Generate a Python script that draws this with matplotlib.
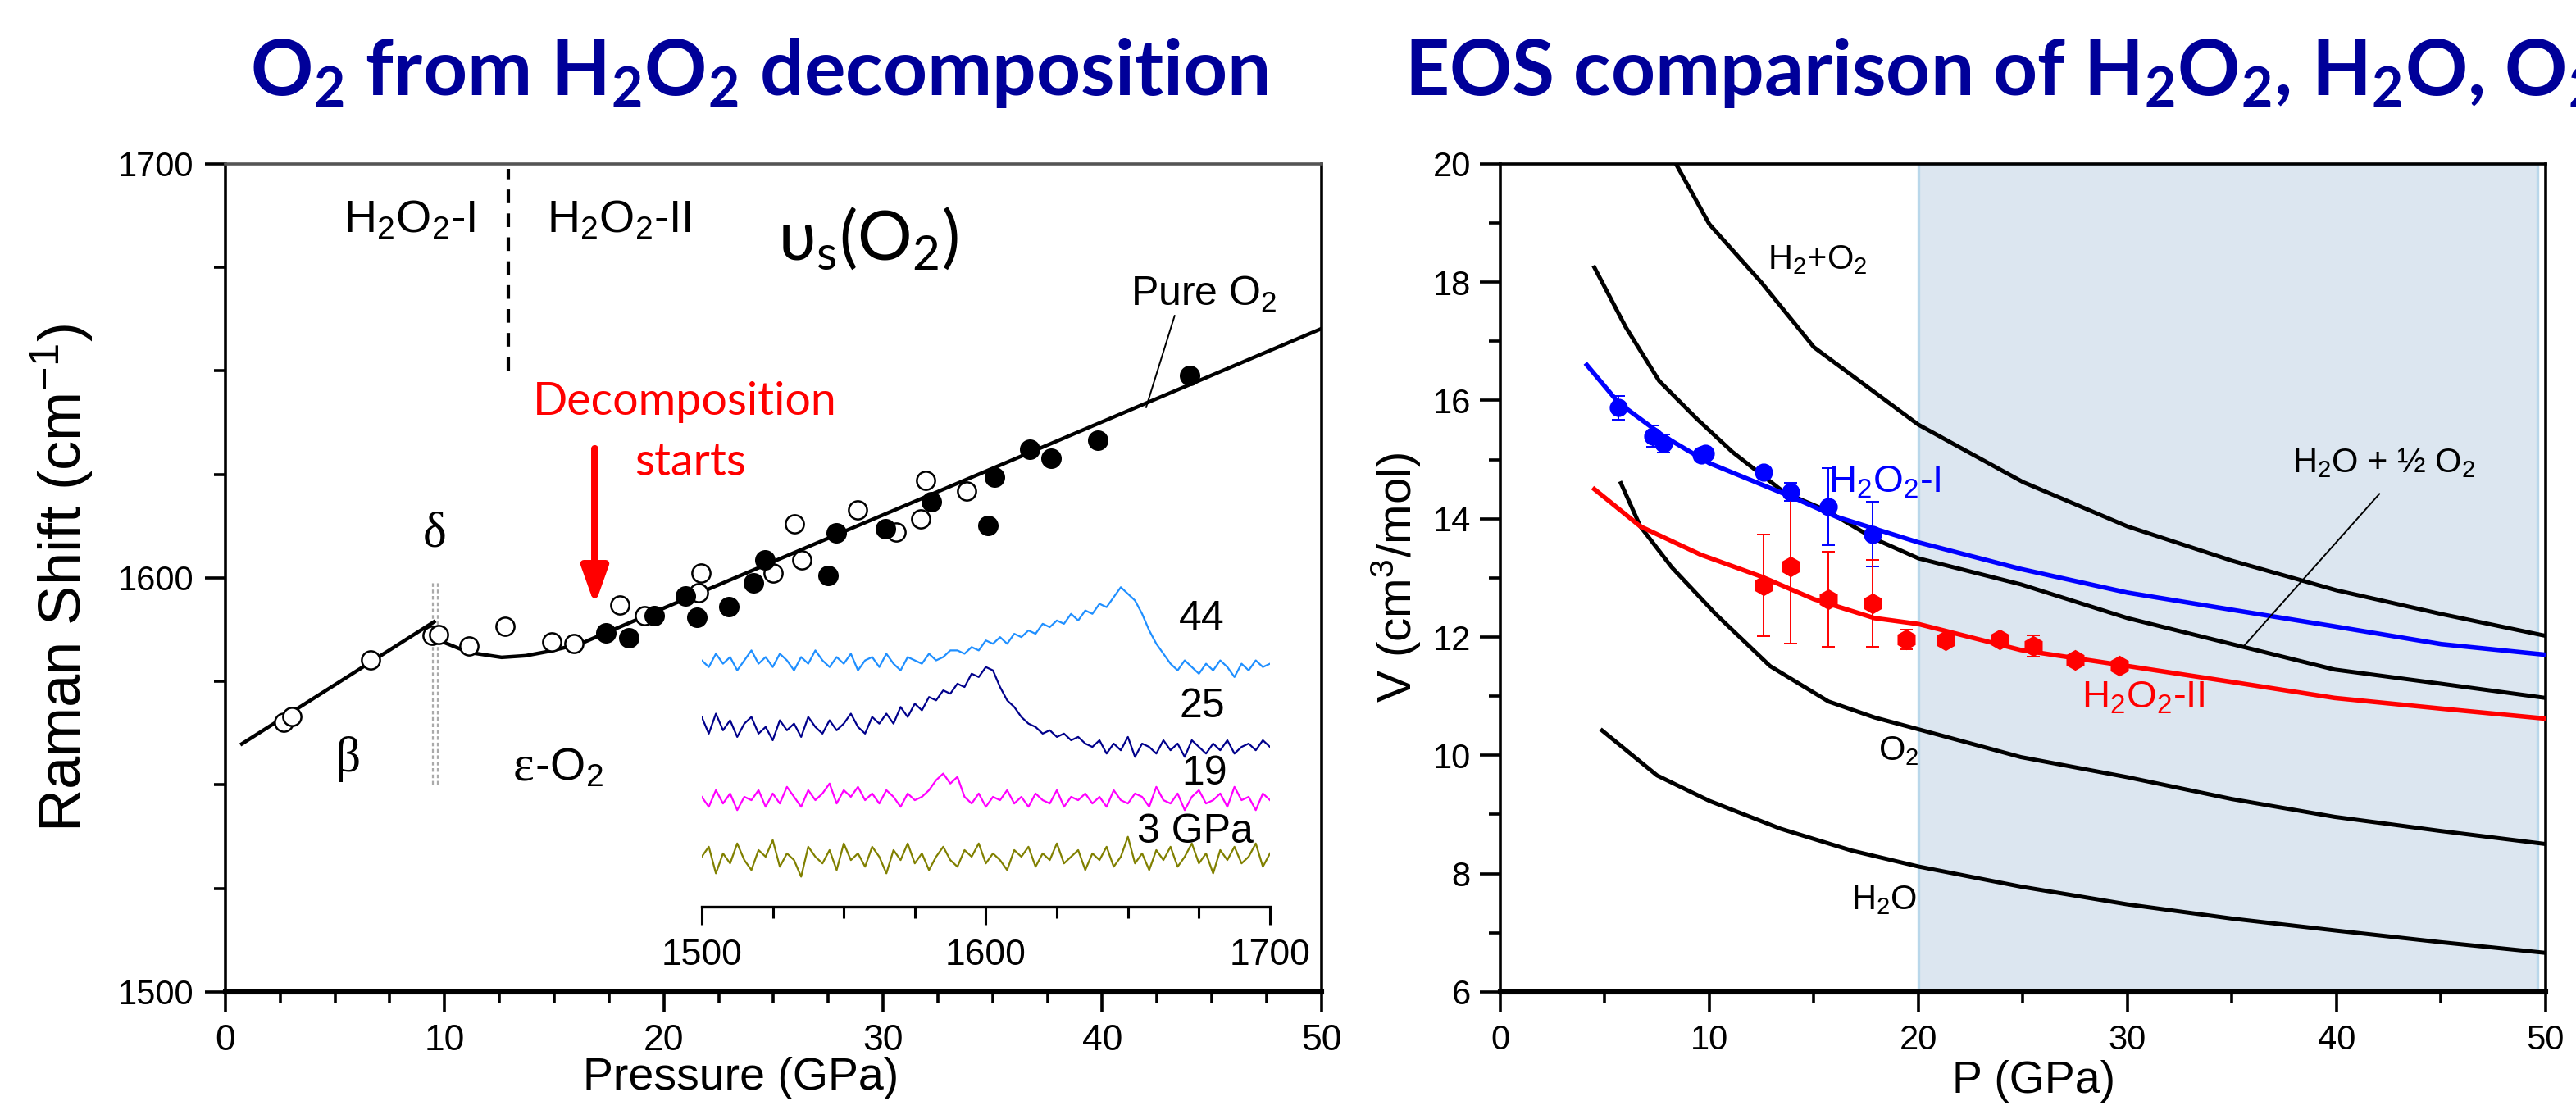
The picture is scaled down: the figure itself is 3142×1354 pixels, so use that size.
import numpy as np
import matplotlib
matplotlib.use("Agg")
import matplotlib.pyplot as plt
from matplotlib import font_manager
from matplotlib.ticker import MultipleLocator

# ---------------- left panel: Raman shift of O2 ----------------
open_p = [2.66, 3.04, 6.62, 9.42, 9.74, 11.1, 12.75, 14.9, 15.9, 18.0, 19.1, 21.7, 21.6,
          25.0, 25.97, 26.3, 28.85, 30.6, 31.73, 31.93, 33.8]
open_w = [1565.2, 1566.6, 1580.1, 1586.2, 1586.4, 1583.5, 1588.3, 1584.5, 1584.1, 1593.4,
          1590.9, 1601.1, 1596.5, 1601.1, 1613.0, 1604.4, 1616.4, 1611.1, 1614.2, 1623.5, 1621.0]
filled_p = [17.35, 18.4, 19.56, 21.0, 21.5, 22.96, 24.07, 24.6, 27.5, 27.87, 30.1, 32.2,
            34.8, 35.08, 36.7, 37.66, 39.8, 43.97]
filled_w = [1586.7, 1585.6, 1590.9, 1595.6, 1590.4, 1593.1, 1598.7, 1604.4, 1600.6, 1610.9,
            1611.9, 1618.3, 1612.7, 1624.3, 1631.0, 1628.9, 1633.2, 1648.9]

beta_fit_p = [0.75, 9.52]
beta_fit_w = [1559.9, 1589.4]
eps_fit_p = [9.7, 11.1, 12.6, 13.7, 14.8, 16.2, 20.0, 30.0, 40.0, 50.0]
eps_fit_w = [1585.0, 1582.0, 1580.8, 1581.2, 1582.3, 1584.1, 1592.7, 1615.2, 1637.7, 1660.2]

# inset spectra (intensity in arbitrary units, offset)
spec_44 = [74, 72, 76, 73, 75, 71, 74, 77, 73, 75, 72, 76, 74, 71, 75, 73, 77, 74, 72, 75,
           73, 76, 71, 74, 75, 72, 76, 73, 71, 75, 74, 73, 76, 74, 75, 77,
           77, 76, 78, 77, 80, 79, 81, 79, 82, 81, 83, 82, 85, 84, 86, 85, 88, 86, 89, 88,
           91, 90, 93, 96, 94, 92, 88, 83, 79,
           76, 73, 71, 74, 72, 70, 73, 71, 74, 72, 69, 73, 71, 74, 72, 73]
spec_25 = [57, 52, 58, 53, 56, 51, 55, 57, 52, 54, 50, 56, 53, 55, 51, 57, 54, 52, 56, 53,
           55, 58, 54, 52, 57, 55,
           58, 55, 60, 57, 61, 59, 63, 62, 65, 64, 67, 66, 70, 69,
           72, 71, 66, 62, 60, 57, 55,
           54, 52, 53, 51, 52, 50, 51, 49,
           48, 50, 46, 49, 47, 51, 45, 49, 48, 46, 50, 47, 49, 45, 50, 48, 46, 49, 47, 50,
           46, 48, 49, 47, 50, 48]
spec_19 = [33, 30, 35, 31, 34, 29, 33, 32, 35, 30, 34, 31, 36, 33, 30, 35, 32, 34, 37, 31,
           35, 33, 36, 32, 34, 31, 35, 33, 30, 34, 32, 33, 35, 38, 40, 37, 39, 33, 31, 34,
           30, 33, 32, 35, 31, 33, 30, 34, 32, 31, 35, 30, 33, 32, 34, 31, 33, 30, 35, 32,
           31, 34, 33, 30, 36, 32, 31, 34, 29, 33, 35, 31, 32, 34, 30, 36, 32, 33, 29, 34, 32]
spec_3 = [15, 18, 10, 16, 13, 19, 14, 11, 17, 15, 20, 12, 16, 14, 9, 18, 15, 13, 17, 11,
          19, 14, 16, 12, 18, 15, 10, 17, 14, 19, 13, 16, 11, 15, 18, 14, 12, 17, 15, 19,
          13, 16, 14, 11, 17, 15, 18, 12, 16, 14, 19, 13, 15, 17, 11, 16, 14, 18, 12, 15,
          21, 13, 16, 11, 17, 14, 18, 12, 15, 19, 13, 16, 10, 17, 14, 18, 13, 15, 19, 12, 16]
spec_labels = ["44", "25", "19", "3 GPa"]
spec_label_pos = [(1676, 86.4), (1676, 60.1), (1677, 40.0), (1673.6, 22.5)]
spec_colors = ["#1f8fff", "#00008b", "#ff00ff", "#808000"]

# ---------------- right panel: EOS ----------------
h2o2_p = [8.4, 10.0, 12.5, 15.0, 20.0, 25.0, 30.0, 35.0, 40.0, 45.0, 50.0]
h2o2_v = [20.0, 18.98, 17.99, 16.9, 15.59, 14.62, 13.87, 13.29, 12.79, 12.39, 12.02]
mix_p = [4.5, 6.0, 7.6, 9.4, 11.1, 13.6, 15.6, 17.9, 20.0, 24.9, 30.0, 35.0, 39.9, 45.0, 50.0]
mix_v = [18.25, 17.24, 16.33, 15.69, 15.13, 14.44, 14.14, 13.66, 13.33, 12.89, 12.32, 11.88,
         11.45, 11.21, 10.97]
o2_p = [5.77, 6.7, 8.2, 10.3, 12.9, 15.7, 17.9, 20.0, 24.9, 30.0, 35.0, 39.9, 45.0, 50.0]
o2_v = [14.6, 13.87, 13.18, 12.39, 11.51, 10.91, 10.64, 10.44, 9.97, 9.63, 9.26, 8.96, 8.72, 8.50]
h2o_p = [4.87, 7.5, 10.0, 13.4, 16.8, 20.0, 24.9, 30.0, 35.0, 39.9, 45.0, 50.0]
h2o_v = [10.42, 9.66, 9.23, 8.76, 8.39, 8.12, 7.78, 7.48, 7.24, 7.04, 6.84, 6.66]
fit1_p = [4.14, 5.66, 7.8, 10.0, 14.0, 16.1, 20.0, 24.9, 30.0, 35.0, 39.9, 45.0, 50.0]
fit1_v = [16.6, 15.96, 15.4, 14.94, 14.36, 14.03, 13.6, 13.15, 12.75, 12.46, 12.18, 11.88, 11.70]
fit2_p = [4.5, 6.7, 9.6, 12.5, 15.0, 17.9, 20.0, 24.9, 30.0, 35.0, 39.9, 45.0, 50.0]
fit2_v = [14.5, 13.87, 13.39, 13.02, 12.64, 12.32, 12.22, 11.78, 11.51, 11.24, 10.97, 10.79, 10.62]

ph1_p = [5.66, 7.28, 7.8, 9.6, 9.8, 12.6, 13.9, 15.7, 17.8]
ph1_v = [15.88, 15.4, 15.27, 15.08, 15.1, 14.78, 14.45, 14.2, 13.74]
ph1_err = [0.2, 0.18, 0.15, 0.05, 0.05, 0.0, 0.15, 0.65, 0.55]
ph2_p = [12.6, 13.9, 15.7, 17.8, 19.4, 21.3, 23.9, 25.5, 27.5, 29.6]
ph2_v = [12.88, 13.19, 12.64, 12.57, 11.96, 11.95, 11.96, 11.85, 11.61, 11.51]
ph2_err = [0.86, 1.3, 0.8, 0.73, 0.17, 0.0, 0.05, 0.18, 0.05, 0.0]


def pick(*names):
    have = {f.name for f in font_manager.fontManager.ttflist}
    for n in names:
        if n in have:
            return n
    return "DejaVu Sans"


SANS = pick("Liberation Sans", "Arial")
SERIF = pick("Liberation Serif", "DejaVu Serif")
TITLE = pick("Lato", "Open Sans")
CAL = pick("Lato", "Open Sans")

plt.rcParams["font.family"] = [SANS, "DejaVu Sans"]
plt.rcParams["mathtext.default"] = "regular"
TITLE_BLUE = "#000099"


def style_axis(ax, size):
    ax.tick_params(which="both", direction="out", labelsize=size, width=1.3, pad=5)
    ax.tick_params(which="major", length=9)
    ax.tick_params(which="minor", length=5)
    ax.tick_params(top=False, right=False)
    for s in ax.spines.values():
        s.set_linewidth(1.3)
    ax.spines["bottom"].set_linewidth(2.2)


def draw_left(fig):
    ax = fig.add_axes([0.0875, 0.1064, 0.4255, 0.746])
    ax.set_xlim(0, 50)
    ax.set_ylim(1500, 1700)
    ax.xaxis.set_major_locator(MultipleLocator(10))
    ax.xaxis.set_minor_locator(MultipleLocator(2.5))
    ax.yaxis.set_major_locator(MultipleLocator(100))
    ax.yaxis.set_minor_locator(MultipleLocator(25))
    style_axis(ax, 16)
    ax.tick_params(axis="y", labelsize=15)
    ax.spines["top"].set_color("#555555")
    ax.set_xlabel("Pressure (GPa)", fontsize=20)
    ax.xaxis.set_label_coords(0.47, -0.078)
    ax.set_ylabel("Raman Shift (cm$^{-1}$)", fontsize=26)
    ax.yaxis.set_label_coords(-0.118, 0.5)

    ax.plot(beta_fit_p, beta_fit_w, color="black", lw=1.6, zorder=3)
    ax.plot(eps_fit_p, eps_fit_w, color="black", lw=1.6, zorder=3)
    ax.plot(open_p, open_w, "o", ms=8, mfc="white", mec="black", mew=0.9, zorder=4)
    ax.plot(filled_p, filled_w, "o", ms=8, mfc="black", mec="black", zorder=4)

    ax.plot([12.9, 12.9], [1650, 1698.7], color="black", lw=1.5, ls=(0, (4, 3)))
    for xp in (9.45, 9.7):
        ax.plot([xp, xp], [1550, 1599], color="#aaaaaa", lw=0.8, ls=(0, (2, 1.5)), zorder=1)

    ax.text(5.4, 1686.3, "H$_2$O$_2$-I", fontsize=20, va="center")
    ax.text(14.65, 1686.3, "H$_2$O$_2$-II", fontsize=20, va="center")
    ax.text(25.2, 1681.9, "υ$_s$(O$_2$)", fontsize=30, va="center", family=[CAL, "DejaVu Sans"])
    ax.text(41.3, 1668.5, "Pure O$_2$", fontsize=18, va="center")
    ax.plot([43.3, 42.0], [1663.3, 1641.2], color="black", lw=0.7)
    ax.text(9.55, 1610.6, "δ", fontsize=22, ha="center", va="center", family=SERIF)
    ax.text(5.6, 1556.3, "β", fontsize=22, ha="center", va="center", family=SERIF)
    ax.text(13.1, 1554.0, "ε", fontsize=22, va="center", family=SERIF)
    ax.text(14.1, 1554.0, "-O$_2$", fontsize=20, va="center")

    ax.text(20.97, 1642.5, "Decomposition", fontsize=20, ha="center", va="center",
            color="red", family=[CAL, "DejaVu Sans"])
    ax.text(21.2, 1627.8, "starts", fontsize=20, ha="center", va="center",
            color="red", family=[CAL, "DejaVu Sans"])
    ax.annotate("", xy=(16.85, 1593.4), xytext=(16.85, 1631.2),
                arrowprops=dict(arrowstyle="-|>,head_length=0.9,head_width=0.32",
                                color="red", lw=3.2, mutation_scale=15,
                                shrinkA=0, shrinkB=0))

    # inset spectra
    ins = fig.add_axes([0.2724, 0.1832, 0.2206, 0.2998])
    ins.patch.set_alpha(0)
    for name in ("top", "right", "left"):
        ins.spines[name].set_visible(False)
    ins.spines["bottom"].set_linewidth(1.2)
    ins.set_xlim(1500, 1700)
    ins.set_ylim(0, 100)
    ins.set_yticks([])
    ins.xaxis.set_major_locator(MultipleLocator(100))
    ins.xaxis.set_minor_locator(MultipleLocator(25))
    ins.tick_params(which="both", direction="out", labelsize=16, width=1.1, pad=6)
    ins.tick_params(which="major", length=8)
    ins.tick_params(which="minor", length=5)
    for spec, col, lab, (lx, ly) in zip([spec_44, spec_25, spec_19, spec_3], spec_colors,
                                        spec_labels, spec_label_pos):
        shift = np.linspace(1500, 1700, len(spec))
        ins.plot(shift, spec, color=col, lw=0.8)
        ins.text(lx, ly, lab, fontsize=18, ha="center", va="center")


def draw_right(fig):
    ax = fig.add_axes([0.5824, 0.1064, 0.4058, 0.746])
    ax.set_xlim(0, 50)
    ax.set_ylim(6, 20)
    ax.xaxis.set_major_locator(MultipleLocator(10))
    ax.xaxis.set_minor_locator(MultipleLocator(5))
    ax.yaxis.set_major_locator(MultipleLocator(2))
    ax.yaxis.set_minor_locator(MultipleLocator(1))
    style_axis(ax, 15)
    ax.tick_params(axis="y", pad=4)
    ax.set_xlabel("P (GPa)", fontsize=20)
    ax.xaxis.set_label_coords(0.51, -0.082)
    ax.set_ylabel("V (cm$^3$/mol)", fontsize=21)
    ax.yaxis.set_label_coords(-0.074, 0.5)

    ax.axvspan(20, 49.6, facecolor="#dce6f0", edgecolor="#b9d7ea", lw=1.2, zorder=0)
    for p, v in [(h2o2_p, h2o2_v), (mix_p, mix_v), (o2_p, o2_v), (h2o_p, h2o_v)]:
        ax.plot(p, v, color="black", lw=1.8, zorder=3)
    ax.plot(fit1_p, fit1_v, color="#0000ff", lw=2.0, zorder=3)
    ax.plot(fit2_p, fit2_v, color="#ff0000", lw=2.0, zorder=3)
    ax.errorbar(ph1_p, ph1_v, yerr=ph1_err, fmt="o", ms=7, color="#0000ff",
                elinewidth=0.7, capsize=3, capthick=0.7, zorder=4)
    ax.errorbar(ph2_p, ph2_v, yerr=ph2_err, fmt="h", ms=8, color="#ff0000",
                elinewidth=0.7, capsize=3, capthick=0.7, zorder=4)

    ax.text(12.8, 18.37, "H$_2$+O$_2$", fontsize=15, va="center")
    ax.text(37.9, 14.94, "H$_2$O + ½ O$_2$", fontsize=15, va="center")
    ax.plot([42.05, 35.6], [14.42, 11.86], color="black", lw=0.7, zorder=3)
    ax.text(15.7, 14.62, "H$_2$O$_2$-I", fontsize=17, va="center", color="#0000ff", zorder=5)
    ax.text(27.8, 10.97, "H$_2$O$_2$-II", fontsize=17, va="center", color="#ff0000", zorder=5)
    ax.text(18.1, 10.07, "O$_2$", fontsize=15, va="center")
    ax.text(16.8, 7.55, "H$_2$O", fontsize=15, va="center")


def main() -> None:
    fig = plt.figure(figsize=(15.71, 6.77), dpi=200)
    fig.text(0.0971, 0.914, "O$_2$ from H$_2$O$_2$ decomposition", fontsize=34,
             fontweight="bold", color=TITLE_BLUE, family=[TITLE, "DejaVu Sans"], va="baseline")
    fig.text(0.5452, 0.914, "EOS comparison of H$_2$O$_2$, H$_2$O, O$_2$", fontsize=34,
             fontweight="bold", color=TITLE_BLUE, family=[TITLE, "DejaVu Sans"], va="baseline")
    draw_left(fig)
    draw_right(fig)
    fig.savefig("out.png", dpi=200)
    plt.close(fig)


if __name__ == "__main__":
    main()
